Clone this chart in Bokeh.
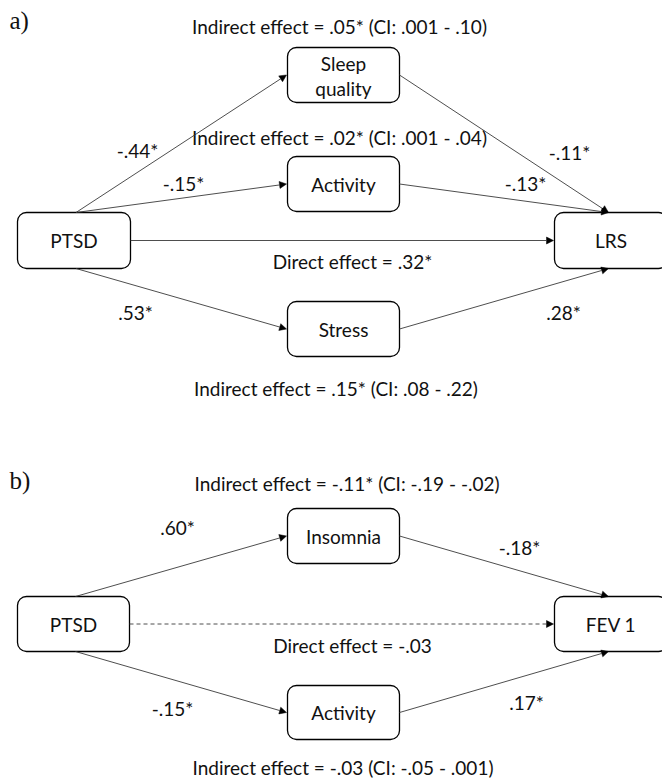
from bokeh.plotting import figure
from bokeh.models import Range1d, ColumnDataSource, Arrow, NormalHead
from bokeh.core.properties import value
from bokeh.embed import file_html
from bokeh.resources import INLINE

# ---------------- data ----------------
# panel a
a_exposure = "PTSD"
a_outcome = "LRS"
a_mediators = ["Sleep quality", "Activity", "Stress"]
a_path_a = [-0.44, -0.15, 0.53]          # exposure -> mediator
a_path_b = [-0.11, -0.13, 0.28]          # mediator -> outcome
a_direct = 0.32
a_direct_sig = True
a_indirect = [0.05, 0.02, 0.15]
a_indirect_sig = [True, True, True]
a_ci_low = ["0.001", "0.001", "0.08"]
a_ci_high = ["0.10", "0.04", "0.22"]

# panel b
b_exposure = "PTSD"
b_outcome = "FEV 1"
b_mediators = ["Insomnia", "Activity"]
b_path_a = [0.60, -0.15]
b_path_b = [-0.18, 0.17]
b_direct = -0.03
b_direct_sig = False
b_indirect = [-0.11, -0.03]
b_indirect_sig = [True, False]
b_ci_low = ["-0.19", "-0.05"]
b_ci_high = ["-0.02", "0.001"]

panel_labels = ["a)", "b)"]


def fmt(v, sig=True):
    s = f"{v:.2f}".replace("0.", ".")
    return s + ("*" if sig else "")


def fmt_s(s):
    return s.replace("0.", ".", 1)


FONT = "Lato"
FS = "19px"
LINE_COL = "#3a3a3a"

W, H = 662, 780
p = figure(width=W, height=H, output_backend="svg", toolbar_location=None,
           x_range=Range1d(0, W), y_range=Range1d(H, 0),
           min_border=0)
p.axis.visible = False
p.grid.visible = False
p.outline_line_color = None
p.background_fill_color = "white"
p.border_fill_color = "white"


def box(l, r, t, b):
    return dict(left=l, right=r, top=t, bottom=b)


# ---------------- layout (pixel space) ----------------
a_boxes = {
    "exp": box(17, 130, 212, 268),
    "med": [box(287, 399, 47, 102), box(287, 399, 156, 211), box(287, 399, 301, 356)],
    "out": box(554, 667, 212, 268),
}
b_boxes = {
    "exp": box(17, 129, 596, 651),
    "med": [box(287, 399, 508, 563), box(287, 399, 685, 739)],
    "out": box(554, 667, 596, 651),
}


def draw_boxes(bx):
    allb = [bx["exp"]] + bx["med"] + [bx["out"]]
    src = ColumnDataSource(dict(
        left=[b["left"] for b in allb], right=[b["right"] for b in allb],
        top=[b["top"] for b in allb], bottom=[b["bottom"] for b in allb]))
    kw = dict(left="left", right="right", top="top", bottom="bottom", source=src,
              fill_color="white", line_color="black", line_width=1.3)
    try:
        p.quad(border_radius=9, **kw)
    except Exception:
        p.quad(**kw)


def cx(b):
    return (b["left"] + b["right"]) / 2


def cy(b):
    return (b["top"] + b["bottom"]) / 2


def draw_arrows(xs, ys, xe, ye, dash="solid"):
    src = ColumnDataSource(dict(xs=xs, ys=ys, xe=xe, ye=ye))
    p.add_layout(Arrow(end=NormalHead(size=7, fill_color="black", line_color="black", line_width=0.5),
                       x_start="xs", y_start="ys", x_end="xe", y_end="ye", source=src,
                       line_color=LINE_COL, line_width=0.9, line_dash=dash))


def add_text(xs, ys, texts, align="center", font=FONT, size=FS):
    src = ColumnDataSource(dict(x=xs, y=ys, t=texts))
    p.text(x="x", y="y", text="t", source=src, text_font=value(font),
           text_font_size=size, text_align=align, text_baseline="middle", text_color="#111111")


# ---------- panel a ----------
draw_boxes(a_boxes)
ex, ou = a_boxes["exp"], a_boxes["out"]
xs, ys, xe, ye = [], [], [], []
for m in a_boxes["med"]:
    above = cy(m) < cy(ex)
    xs.append(cx(ex) + 2); ys.append(ex["top"] if above else ex["bottom"])
    xe.append(m["left"] - 1); ye.append(cy(m))
    xs.append(m["right"]); ys.append(cy(m))
    xe.append(cx(ou) - 2.5); ye.append(ou["top"] if above else ou["bottom"])
draw_arrows(xs, ys, xe, ye)
draw_arrows([ex["right"]], [cy(ex)], [ou["left"] - 1], [cy(ou)])

add_text([cx(ex), cx(ou)], [cy(ex), cy(ou)], [a_exposure, a_outcome])
for m, name in zip(a_boxes["med"], a_mediators):
    parts = name.split(" ")
    if len(parts) == 2:
        add_text([cx(m), cx(m)], [cy(m) - 12, cy(m) + 13], parts)
    else:
        add_text([cx(m)], [cy(m)], [name])

add_text([137, 183, 135], [150, 183, 312], [fmt(v) for v in a_path_a])
add_text([569, 525, 563], [152, 183, 312], [fmt(v) for v in a_path_b])
add_text([352], [261], ["Direct effect = " + fmt(a_direct, a_direct_sig)])
ind_a = [f"Indirect effect = {fmt(v, s)} (CI: {fmt_s(lo)} - {fmt_s(hi)})"
         for v, s, lo, hi in zip(a_indirect, a_indirect_sig, a_ci_low, a_ci_high)]
add_text([339, 339, 335.5], [26, 137, 388], ind_a)

# ---------- panel b ----------
draw_boxes(b_boxes)
ex, ou = b_boxes["exp"], b_boxes["out"]
xs, ys, xe, ye = [], [], [], []
for m in b_boxes["med"]:
    above = cy(m) < cy(ex)
    xs.append(cx(ex) + 2); ys.append(ex["top"] if above else ex["bottom"])
    xe.append(m["left"] - 1); ye.append(cy(m))
    xs.append(m["right"]); ys.append(cy(m))
    xe.append(cx(ou) - 2.5); ye.append(ou["top"] if above else ou["bottom"])
draw_arrows(xs, ys, xe, ye)
draw_arrows([ex["right"]], [cy(ex)], [ou["left"] - 1], [cy(ou)],
            dash="solid" if b_direct_sig else "4 3")

add_text([cx(ex), cx(ou)], [cy(ex), cy(ou)], [b_exposure, b_outcome])
for m, name in zip(b_boxes["med"], b_mediators):
    add_text([cx(m)], [cy(m)], [name])

add_text([177, 172], [527, 708], [fmt(v) for v in b_path_a])
add_text([519, 526], [547, 702], [fmt(v) for v in b_path_b])
add_text([352], [645], ["Direct effect = " + fmt(b_direct, b_direct_sig)])
ind_b = [f"Indirect effect = {fmt(v, s)} (CI: {fmt_s(lo)} - {fmt_s(hi)})"
         for v, s, lo, hi in zip(b_indirect, b_indirect_sig, b_ci_low, b_ci_high)]
add_text([346.5, 342.5], [483, 767], ind_b)

add_text([9, 9], [20, 480], panel_labels, align="left", font="Liberation Serif", size="25px")

open("out.html", "w").write(file_html(p, INLINE))
